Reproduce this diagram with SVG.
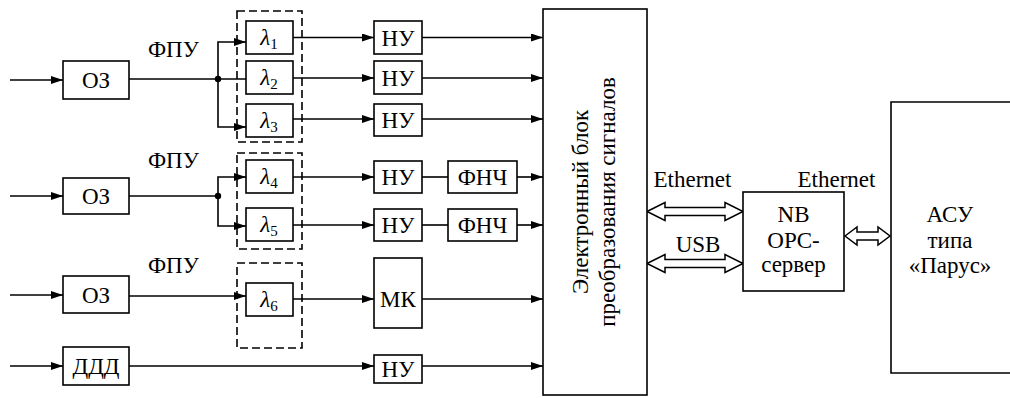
<svg xmlns="http://www.w3.org/2000/svg" width="1010" height="398" viewBox="0 0 1010 398">
<defs>
<marker id="ah" viewBox="0 0 12 8" refX="12" refY="4" markerWidth="12" markerHeight="8" markerUnits="userSpaceOnUse" orient="auto"><path d="M0,0 L12,4 L0,8 z" fill="#000"/></marker>
</defs>
<style>
.b{fill:#fff;stroke:#000;stroke-width:1.6}
.d{fill:none;stroke:#000;stroke-width:1.6;stroke-dasharray:8 4}
.l{fill:none;stroke:#000;stroke-width:1.6}
.a{fill:none;stroke:#000;stroke-width:1.6;marker-end:url(#ah)}
.da{fill:#fff;stroke:#000;stroke-width:1.5;stroke-linejoin:miter}
.t{font-family:"Times New Roman",Tinos,"Liberation Serif","DejaVu Serif",serif;font-size:23px;fill:#000}
.c{text-anchor:middle}
.lam{font-style:italic}
.sub{font-size:15px;font-style:normal}
</style>
<rect width="1010" height="398" fill="#fff"/>

<g id="connectors">
<path class="a" d="M10,80 H63"/>
<path class="a" d="M10,196 H63"/>
<path class="a" d="M10,295 H63"/>
<path class="a" d="M10,366 H63"/>
<path class="l" d="M129,79 H246"/>
<path class="a" d="M218,79 V42 H246"/>
<path class="a" d="M218,79 V127 H246"/>
<path class="l" d="M129,196 H218"/>
<path class="a" d="M218,196 V177 H246"/>
<path class="a" d="M218,196 V226 H246"/>
<path class="a" d="M129,296 H246"/>
<path class="a" d="M293,37.5 H374"/>
<path class="a" d="M293,78 H374"/>
<path class="a" d="M293,119 H374"/>
<path class="a" d="M293,177 H374"/>
<path class="a" d="M293,225 H374"/>
<path class="a" d="M293,299 H374"/>
<path class="a" d="M129,366 H374"/>
<path class="a" d="M422,37.5 H543"/>
<path class="a" d="M422,78 H543"/>
<path class="a" d="M422,119 H543"/>
<path class="l" d="M422,177 H448"/>
<path class="a" d="M517,177 H543"/>
<path class="l" d="M422,225 H448"/>
<path class="a" d="M517,225 H543"/>
<path class="a" d="M422,299 H543"/>
<path class="a" d="M422,366 H543"/>
<circle cx="218" cy="79" r="3.2" fill="#000"/>
<circle cx="218" cy="196" r="3.2" fill="#000"/>
<polygon class="da" points="647,211.5 665,202.5 665,207.5 725,207.5 725,202.5 743,211.5 725,220.5 725,215.5 665,215.5 665,220.5"/>
<polygon class="da" points="647,263.5 665,254.5 665,259.5 725,259.5 725,254.5 743,263.5 725,272.5 725,267.5 665,267.5 665,272.5"/>
<polygon class="da" points="845,236 857,227 857,232 878,232 878,227 890,236 878,245 878,240 857,240 857,245"/>
<text class="t c" x="692.5" y="187">Ethernet</text>
<text class="t c" x="698" y="252">USB</text>
<text class="t c" x="836.5" y="187">Ethernet</text>
<text class="t c" x="173.5" y="57">ФПУ</text>
<text class="t c" x="173.5" y="168">ФПУ</text>
<text class="t c" x="173.5" y="273">ФПУ</text>
</g>

<g id="oz1"><rect class="b" x="63" y="61" width="66" height="38"/><text class="t c" x="96" y="88">ОЗ</text></g>
<g id="oz2"><rect class="b" x="63" y="178" width="66" height="36"/><text class="t c" x="96" y="204">ОЗ</text></g>
<g id="oz3"><rect class="b" x="63" y="276" width="66" height="37"/><text class="t c" x="96" y="303">ОЗ</text></g>
<g id="ddd"><rect class="b" x="63" y="347" width="66" height="38"/><text class="t c" x="96" y="374">ДДД</text></g>

<g id="fpu1"><rect class="d" x="237" y="11" width="65" height="131"/></g>
<g id="fpu2"><rect class="d" x="237" y="153" width="65" height="96"/></g>
<g id="fpu3"><rect class="d" x="237" y="263" width="65" height="85"/></g>

<g id="l1"><rect class="b" x="246" y="21" width="47" height="33"/><text class="t c lam" x="269" y="45">λ<tspan class="sub" dy="4">1</tspan></text></g>
<g id="l2"><rect class="b" x="246" y="61" width="47" height="33"/><text class="t c lam" x="269" y="85">λ<tspan class="sub" dy="4">2</tspan></text></g>
<g id="l3"><rect class="b" x="246" y="104" width="47" height="33"/><text class="t c lam" x="269" y="128">λ<tspan class="sub" dy="4">3</tspan></text></g>
<g id="l4"><rect class="b" x="246" y="160" width="47" height="33"/><text class="t c lam" x="269" y="184">λ<tspan class="sub" dy="4">4</tspan></text></g>
<g id="l5"><rect class="b" x="246" y="208" width="47" height="33"/><text class="t c lam" x="269" y="232">λ<tspan class="sub" dy="4">5</tspan></text></g>
<g id="l6"><rect class="b" x="246" y="283" width="47" height="33"/><text class="t c lam" x="269" y="307">λ<tspan class="sub" dy="4">6</tspan></text></g>

<g id="nu1"><rect class="b" x="374" y="21" width="48" height="33"/><text class="t c" x="398" y="46">НУ</text></g>
<g id="nu2"><rect class="b" x="374" y="61" width="48" height="33"/><text class="t c" x="398" y="86">НУ</text></g>
<g id="nu3"><rect class="b" x="374" y="104" width="48" height="32"/><text class="t c" x="398" y="128">НУ</text></g>
<g id="nu4"><rect class="b" x="374" y="161" width="48" height="32"/><text class="t c" x="398" y="185">НУ</text></g>
<g id="nu5"><rect class="b" x="374" y="209" width="48" height="32"/><text class="t c" x="398" y="233">НУ</text></g>
<g id="mk"><rect class="b" x="374" y="258" width="48" height="70"/><text class="t c" x="398" y="307">МК</text></g>
<g id="nu6"><rect class="b" x="374" y="355" width="48" height="28"/><text class="t c" x="398" y="377">НУ</text></g>

<g id="fnch1"><rect class="b" x="448" y="161" width="69" height="32"/><text class="t c" x="482.5" y="185">ФНЧ</text></g>
<g id="fnch2"><rect class="b" x="448" y="209" width="69" height="32"/><text class="t c" x="482.5" y="233">ФНЧ</text></g>

<g id="block"><rect class="b" x="543" y="9" width="104" height="386"/>
<text class="t c" transform="translate(588,202) rotate(-90)"><tspan x="0" y="0">Электронный блок</tspan><tspan x="0" y="27">преобразования сигналов</tspan></text></g>

<g id="opc"><rect class="b" x="743" y="192" width="101" height="99"/>
<text class="t c" x="793.5" y="222">NB</text><text class="t c" x="793.5" y="248">OPC-</text><text class="t c" x="793.5" y="272">сервер</text></g>

<g id="asu"><path class="l" d="M1012,102 H891 V373 H1012"/>
<text class="t c" x="950" y="222">АСУ</text><text class="t c" x="950" y="248">типа</text><text class="t c" x="950" y="273">«Парус»</text></g>
</svg>
